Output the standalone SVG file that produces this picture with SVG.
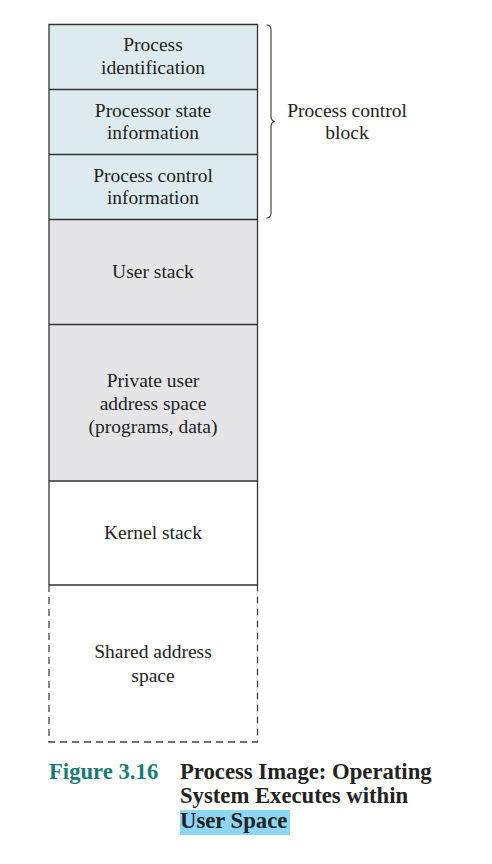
<svg xmlns="http://www.w3.org/2000/svg" width="492" height="864" viewBox="0 0 492 864">
<style>
.t{font-family:"Liberation Serif","Times New Roman",serif;font-size:19.5px;fill:#222;text-anchor:middle}
.pcb{fill:#deebee;stroke:none}
.usr{fill:#e5e5e7;stroke:none}
.sep{stroke:#333;stroke-width:1.3;fill:none}
.cap{font-family:"Liberation Serif","Times New Roman",serif;font-size:22.7px;font-weight:bold;fill:#222}
</style>
<rect width="492" height="864" fill="#fff"/>
<g id="process-identification">
<rect class="pcb" x="49" y="24.5" width="208.5" height="65"/>
<text class="t" x="153" y="51">Process</text>
<text class="t" x="153" y="74">identification</text>
</g>
<g id="processor-state">
<rect class="pcb" x="49" y="89.5" width="208.5" height="65"/>
<text class="t" x="153" y="117">Processor state</text>
<text class="t" x="153" y="139">information</text>
</g>
<g id="process-control-info">
<rect class="pcb" x="49" y="154.5" width="208.5" height="65"/>
<text class="t" x="153" y="182">Process control</text>
<text class="t" x="153" y="204">information</text>
</g>
<g id="user-stack">
<rect class="usr" x="49" y="219.5" width="208.5" height="105"/>
<text class="t" x="153" y="278">User stack</text>
</g>
<g id="private-user-space">
<rect class="usr" x="49" y="324.5" width="208.5" height="157"/>
<text class="t" x="153" y="387">Private user</text>
<text class="t" x="153" y="410">address space</text>
<text class="t" x="153" y="433">(programs, data)</text>
</g>
<g id="kernel-stack">
<text class="t" x="153" y="539">Kernel stack</text>
</g>
<g id="shared-address-space">
<text class="t" x="153" y="658">Shared address</text>
<text class="t" x="153" y="682">space</text>
<path d="M49,585 V742 H257.5 V585" fill="none" stroke="#444" stroke-width="1.3" stroke-dasharray="7,5"/>
</g>
<g id="outline">
<path class="sep" d="M49,585 V24.5 H257.5 V585"/>
<line class="sep" x1="49" y1="89.5" x2="257.5" y2="89.5"/>
<line class="sep" x1="49" y1="154.5" x2="257.5" y2="154.5"/>
<line class="sep" x1="49" y1="219.5" x2="257.5" y2="219.5"/>
<line class="sep" x1="49" y1="324.5" x2="257.5" y2="324.5"/>
<line class="sep" x1="49" y1="481" x2="257.5" y2="481"/>
<line class="sep" x1="49" y1="585" x2="257.5" y2="585"/>
</g>
<g id="connectors">
<path d="M266.5,25 Q271,25 271,30 V116 Q271,121 275,121.5 Q271,122 271,127 V213 Q271,218 266.5,218" fill="none" stroke="#333" stroke-width="1.1"/>
</g>
<g id="pcb-label">
<text class="t" x="347" y="117">Process control</text>
<text class="t" x="347" y="139">block</text>
</g>
<g id="caption">
<rect x="180" y="810" width="110" height="25" fill="#8dd6f6"/>
<text class="cap" x="49" y="779" style="fill:#1b7b74">Figure 3.16</text>
<text class="cap" x="180" y="779">Process Image: Operating</text>
<text class="cap" x="180" y="803">System Executes within</text>
<text class="cap" x="180" y="828">User Space</text>
</g>
</svg>
